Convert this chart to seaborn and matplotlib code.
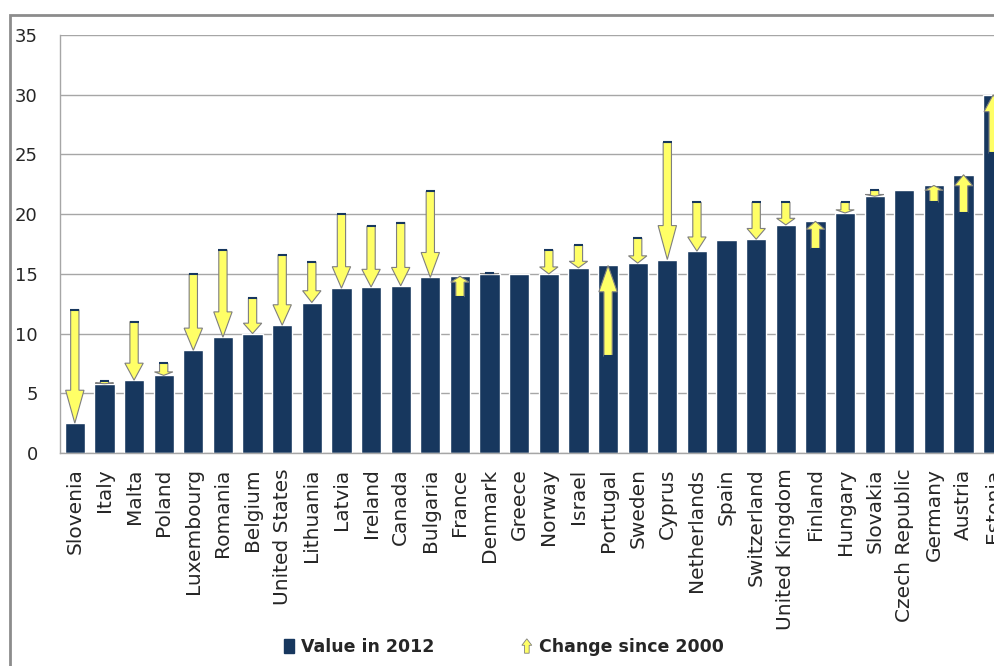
import numpy as np
import matplotlib
matplotlib.use("Agg")
import matplotlib.pyplot as plt
import matplotlib.patches as mpatches
from matplotlib.legend_handler import HandlerPatch
import seaborn as sns

countries = ['Slovenia', 'Italy', 'Malta', 'Poland', 'Luxembourg', 'Romania', 'Belgium',
             'United States', 'Lithuania', 'Latvia', 'Ireland', 'Canada', 'Bulgaria',
             'France', 'Denmark', 'Greece', 'Norway', 'Israel', 'Portugal', 'Sweden',
             'Cyprus', 'Netherlands', 'Spain', 'Switzerland', 'United Kingdom', 'Finland',
             'Hungary', 'Slovakia', 'Czech Republic', 'Germany', 'Austria', 'Estonia']
value_2012 = [2.5, 5.8, 6.1, 6.5, 8.6, 9.7, 10.0, 10.7, 12.6, 13.8, 13.9, 14.0, 14.7,
              14.8, 15.0, 15.0, 15.0, 15.5, 15.7, 15.9, 16.2, 16.9, 17.8, 17.9, 19.1,
              19.4, 20.1, 21.5, 22.0, 22.4, 23.3, 30.0]
value_2000 = [12.0, 6.0, 11.0, 7.5, 15.0, 17.0, 13.0, 16.6, 16.0, 20.0, 19.0, 19.3, 21.9,
              13.1, 15.1, 15.0, 17.0, 17.4, 8.1, 18.0, 26.0, 21.0, 17.8, 21.0, 21.0,
              17.1, 21.0, 22.0, 22.0, 21.0, 20.1, 25.1]
yticks = [0, 5, 10, 15, 20, 25, 30, 35]

NAVY = '#17375E'
YELLOW = '#FFFF66'
ARROW_EDGE = '#7f7f7f'
GRID = '#a6a6a6'

sns.set_style("white")
plt.rcParams['font.family'] = ['DejaVu Sans']

fig = plt.figure(figsize=(9.94, 6.66), dpi=100)
ax = fig.add_axes([60 / 994, 213 / 666, 948 / 994, 418 / 666])

sns.barplot(x=countries, y=value_2012, color=NAVY, saturation=1, width=0.68,
            ax=ax, zorder=2)

# change arrows: from 2000 value to 2012 value
for i, (v0, v1) in enumerate(zip(value_2000, value_2012)):
    d = v1 - v0
    if abs(d) < 0.05:
        continue
    arr = mpatches.FancyArrow(i, v0, 0, d, width=0.28, head_width=0.62,
                              head_length=0.29 * abs(d), length_includes_head=True,
                              facecolor=YELLOW, edgecolor=ARROW_EDGE, lw=0.8, zorder=3)
    ax.add_patch(arr)
    ax.plot([i - 0.15, i + 0.15], [v0, v0], color=NAVY, lw=1.5, zorder=4,
            solid_capstyle='butt')

ax.set_xlim(-0.5, len(countries) - 0.5)
ax.set_ylim(0, 35)
ax.set_yticks(yticks)
ax.yaxis.grid(True, color=GRID, lw=1)
ax.set_axisbelow(True)
ax.set_xlabel('')
ax.set_ylabel('')

for s in ['top', 'right']:
    ax.spines[s].set_visible(False)
for s in ['left', 'bottom']:
    ax.spines[s].set_color(GRID)
    ax.spines[s].set_linewidth(1)

ax.tick_params(axis='y', length=6, color=GRID, pad=10, labelsize=13)
ax.tick_params(axis='x', which='major', length=0, pad=11, labelsize=14.5, rotation=90)
ax.set_xticks(np.arange(-0.5, len(countries), 1), minor=True)
ax.tick_params(axis='x', which='minor', length=7, color=GRID)

# outer chart frame
fig.add_artist(mpatches.Rectangle((10 / 994, -0.05), 1.2, 1 - 15 / 666 + 0.05,
                                  transform=fig.transFigure, fill=False,
                                  edgecolor='#8c8c8c', lw=2))


def make_arrow(legend, orig_handle, xdescent, ydescent, width, height, fontsize):
    return mpatches.FancyArrow(width / 2 - xdescent, -ydescent, 0, height,
                               width=width * 0.45, head_width=width * 0.95,
                               head_length=height * 0.45, length_includes_head=True)


h_bar = mpatches.Patch(facecolor=NAVY, edgecolor=NAVY)
h_arrow = mpatches.Patch(facecolor=YELLOW, edgecolor=ARROW_EDGE, lw=0.6)
fig.legend([h_bar, h_arrow], ['Value in 2012', 'Change since 2000'],
           loc='center', bbox_to_anchor=(0.507, 19 / 666), ncol=2, frameon=False,
           handlelength=0.6, handleheight=0.9, handletextpad=0.4, columnspacing=5.0,
           prop={'weight': 'bold', 'size': 12.5},
           handler_map={h_arrow: HandlerPatch(patch_func=make_arrow)})

fig.savefig('out.png', dpi=100)
